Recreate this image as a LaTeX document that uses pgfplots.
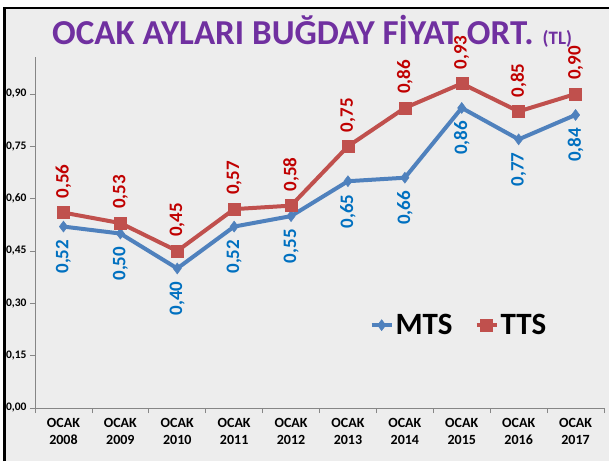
\documentclass[border=0pt]{standalone}
\usepackage{pgfplots}
\pgfplotsset{compat=1.18}
\usepackage{fontspec}
\setmainfont{Carlito}
\definecolor{mtsline}{RGB}{79,129,189}
\definecolor{ttsline}{RGB}{192,80,77}
\definecolor{mtstext}{RGB}{0,112,192}
\definecolor{ttstext}{RGB}{192,0,0}
\definecolor{titlecol}{RGB}{112,48,160}
\definecolor{marble}{RGB}{237,237,237}
\definecolor{axgray}{RGB}{134,134,134}
\begin{document}
\begin{tikzpicture}
\path[use as bounding box, fill=white] (0,0) rectangle (609pt,461pt);
\fill[marble] (3pt,0pt) rectangle (609pt,453pt);
\draw[black, line width=2pt] (3pt,453pt) -- (609pt,453pt);
\draw[black, line width=3pt] (4.5pt,0pt) -- (4.5pt,454pt);
\node[anchor=base west, inner sep=0pt, text=titlecol, font=\bfseries] at (52pt,416pt)
  {{\fontsize{35}{35}\selectfont OCAK AYLARI BUĞDAY FİYAT ORT.}\hspace{9pt}{\fontsize{19}{19}\selectfont (TL)}};
\begin{axis}[
  at={(35pt,53pt)}, anchor=south west,
  scale only axis, width=569pt, height=351pt,
  xmin=-0.5, xmax=9.5, ymin=0, ymax=1.006,
  clip=false,
  axis x line*=bottom, axis y line*=left,
  axis line style={draw=axgray, line width=0.8pt},
  tick style={draw=axgray, line width=0.8pt},
  tick align=outside, major tick length=5pt,
  ytick={0,0.15,0.30,0.45,0.60,0.75,0.90},
  yticklabel style={font=\bfseries\fontsize{11.5}{11.5}\selectfont,
    /pgf/number format/.cd, fixed, fixed zerofill, precision=2, use comma, assume math mode=true},
  xtick={-0.5,0.5,...,9.5}, xticklabels={},
  extra x ticks={0,1,2,3,4,5,6,7,8,9},
  extra x tick labels={{OCAK\\2008},{OCAK\\2009},{OCAK\\2010},{OCAK\\2011},{OCAK\\2012},{OCAK\\2013},{OCAK\\2014},{OCAK\\2015},{OCAK\\2016},{OCAK\\2017}},
  extra x tick style={major tick length=0pt},
  xticklabel style={align=center, font=\bfseries\fontsize{14}{16.5}\selectfont, yshift=-7pt},
  legend style={at={(0.745,0.236)}, anchor=center, draw=none, fill=none,
    font=\bfseries\fontsize{31}{31}\selectfont, legend columns=2,
    /tikz/every even column/.append style={column sep=20pt}},
  legend image code/.code={\draw[mark repeat=2,mark phase=2,#1] plot coordinates {(0pt,0pt)(10pt,0pt)(20pt,0pt)};},
]
\addplot[color=mtsline, line width=4pt, mark=diamond*, mark size=5.5pt,
  mark options={solid, line width=0.5pt, fill=mtsline},
  nodes near coords, point meta=explicit symbolic,
  every node near coord/.append style={rotate=90, anchor=east, inner xsep=13pt, inner ysep=0pt,
    text=mtstext, font=\bfseries\fontsize{19}{19}\selectfont}]
  table[meta=l] {
x y l
0 0.52 0,52
1 0.50 0,50
2 0.40 0,40
3 0.52 0,52
4 0.55 0,55
5 0.65 0,65
6 0.66 0,66
7 0.86 0,86
8 0.77 0,77
9 0.84 0,84
};
\addlegendentry{MTS}
\addplot[color=ttsline, line width=4pt, mark=square*, mark size=6pt,
  mark options={solid, line width=0.5pt, fill=ttsline},
  nodes near coords, point meta=explicit symbolic,
  every node near coord/.append style={rotate=90, anchor=west, inner xsep=14pt, inner ysep=0pt,
    text=ttstext, font=\bfseries\fontsize{19}{19}\selectfont}]
  table[meta=l] {
x y l
0 0.56 0,56
1 0.53 0,53
2 0.45 0,45
3 0.57 0,57
4 0.58 0,58
5 0.75 0,75
6 0.86 0,86
7 0.93 0,93
8 0.85 0,85
9 0.90 0,90
};
\addlegendentry{TTS}
\end{axis}
\end{tikzpicture}
\end{document}
